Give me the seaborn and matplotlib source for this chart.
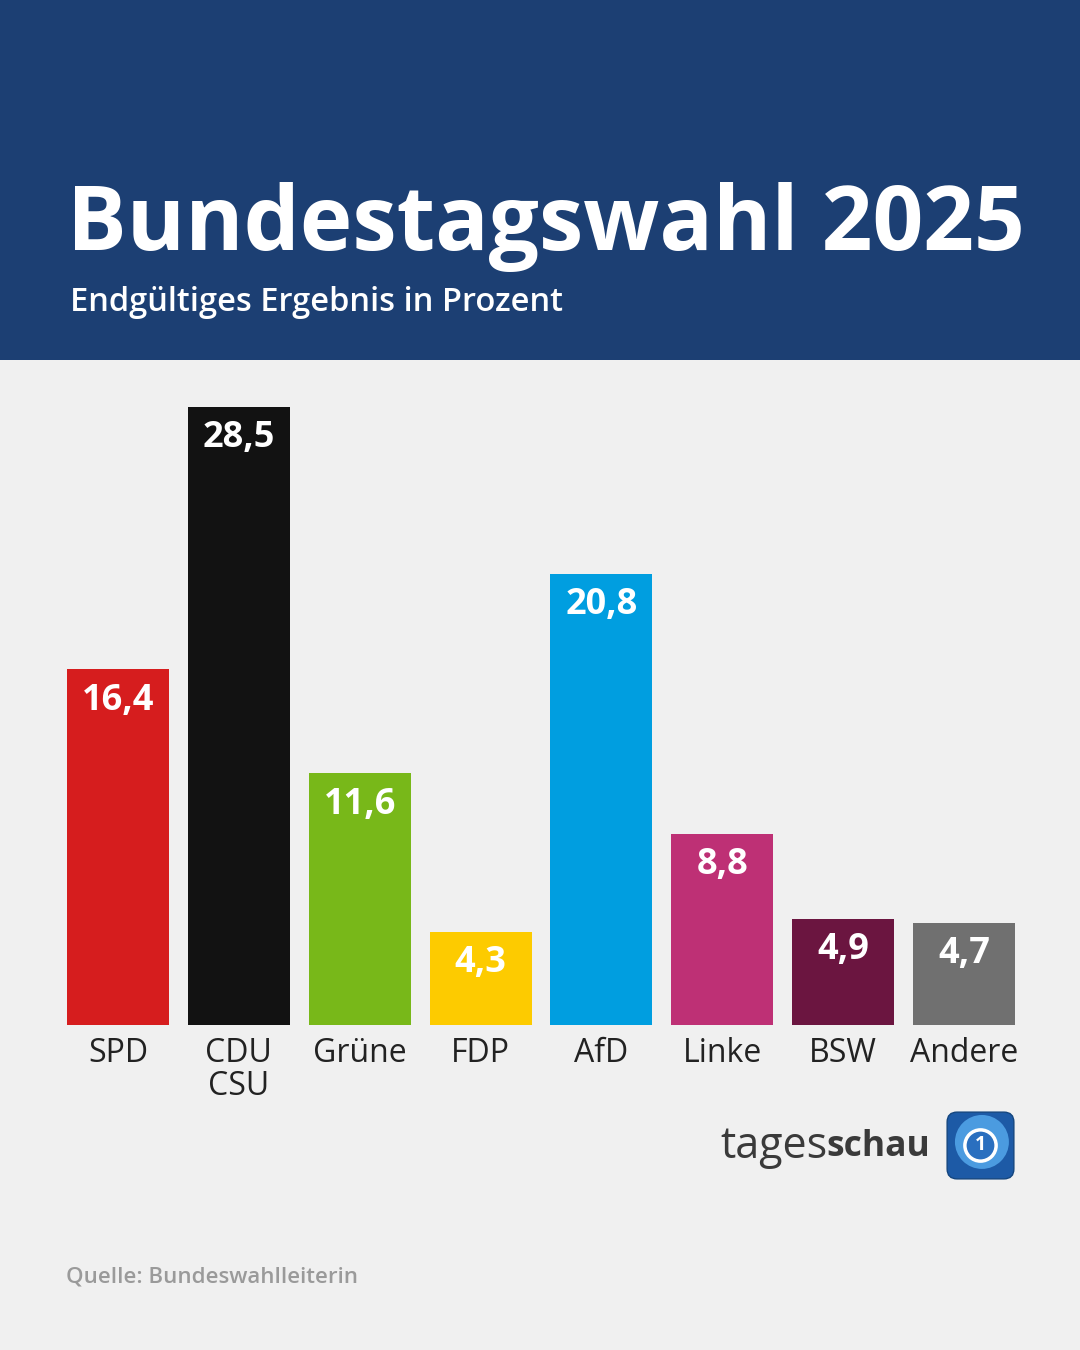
import matplotlib
matplotlib.use("Agg")
import matplotlib.pyplot as plt
import seaborn as sns
import pandas as pd
from matplotlib.patches import Rectangle, FancyBboxPatch, Circle

# Data
parties = ["SPD", "CDU\nCSU", "Grüne", "FDP", "AfD", "Linke", "BSW", "Andere"]
results = [16.4, 28.5, 11.6, 4.3, 20.8, 8.8, 4.9, 4.7]
labels = ["16,4", "28,5", "11,6", "4,3", "20,8", "8,8", "4,9", "4,7"]
colors = ["#d61d1e", "#121212", "#78b819", "#fdcb00",
          "#009ee0", "#be3075", "#6b1540", "#707070"]

title = "Bundestagswahl 2025"
subtitle = "Endgültiges Ergebnis in Prozent"
source = "Quelle: Bundeswahlleiterin"

BG = "#f0f0f0"
HEADER = "#1c3f73"

sns.set_theme(style="white")
plt.rcParams["font.family"] = ["Open Sans", "DejaVu Sans"]

fig = plt.figure(figsize=(10.8, 13.5), dpi=100, facecolor=BG)

# header band
fig.patches.append(Rectangle((0, 0.7333), 1, 0.2667, transform=fig.transFigure,
                             facecolor=HEADER, edgecolor="none", zorder=0))
fig.text(0.062, 0.8148, title, color="white", fontsize=64, fontweight="bold",
         va="baseline", ha="left")
fig.text(0.065, 0.7695, subtitle, color="white", fontsize=23.5, fontweight="semibold",
         va="baseline", ha="left")

# bar chart
ax = fig.add_axes([57.6 / 1080, 0.2407, (1024.4 - 57.6) / 1080, 0.7227 - 0.2407])
ax.set_facecolor(BG)
df = pd.DataFrame({"party": parties, "value": results})
sns.barplot(data=df, x="party", y="value", hue="party", palette=colors,
            legend=False, width=0.845, saturation=1, linewidth=0, ax=ax)
ax.set_xlim(-0.5, len(parties) - 0.5)
ax.set_ylim(0, 30)

for i, (v, lab) in enumerate(zip(results, labels)):
    ax.annotate(lab, xy=(i, v), xytext=(0, -22.5), textcoords="offset points",
                ha="center", va="center", color="white", fontsize=26,
                fontweight="bold")

ax.set_xlabel("")
ax.set_ylabel("")
ax.set_yticks([])
ax.tick_params(axis="x", length=0, pad=8.5, labelsize=23, labelcolor="#222222")
for t in ax.get_xticklabels():
    t.set_linespacing(1.0)
    t.set_verticalalignment("top")
sns.despine(ax=ax, left=True, bottom=True)

# tagesschau logo
fig.text(720 / 1080, 1 - 1147 / 1350, "tages", color="#3a3a3a", fontsize=31,
         va="center", ha="left")
fig.text(826 / 1080, 1 - 1147 / 1350, "schau", color="#3a3a3a", fontsize=25.5,
         fontweight="bold", va="center", ha="left")
logo_ax = fig.add_axes([945 / 1080, 1 - 1181 / 1350, 71 / 1080, 71 / 1350])
logo_ax.set_xlim(0, 1)
logo_ax.set_ylim(0, 1)
logo_ax.axis("off")
logo_ax.add_patch(FancyBboxPatch((0.03, 0.03), 0.94, 0.94,
                                 boxstyle="round,pad=0,rounding_size=0.14",
                                 facecolor="#1d5aa6", edgecolor="#14467f", lw=1))
logo_ax.add_patch(Circle((0.52, 0.55), 0.38, facecolor="#4b9be0", edgecolor="none"))
logo_ax.add_patch(Circle((0.5, 0.5), 0.22, facecolor="#2a6fbf", edgecolor="white", lw=2.5))
logo_ax.text(0.5, 0.5, "1", color="white", fontsize=14, fontweight="bold",
             ha="center", va="center")

fig.text(0.061, 1 - 1277 / 1350, source, color="#9a9a9a", fontsize=16,
         fontweight="semibold", va="center", ha="left")

fig.savefig("out.png", dpi=100, facecolor=BG)
